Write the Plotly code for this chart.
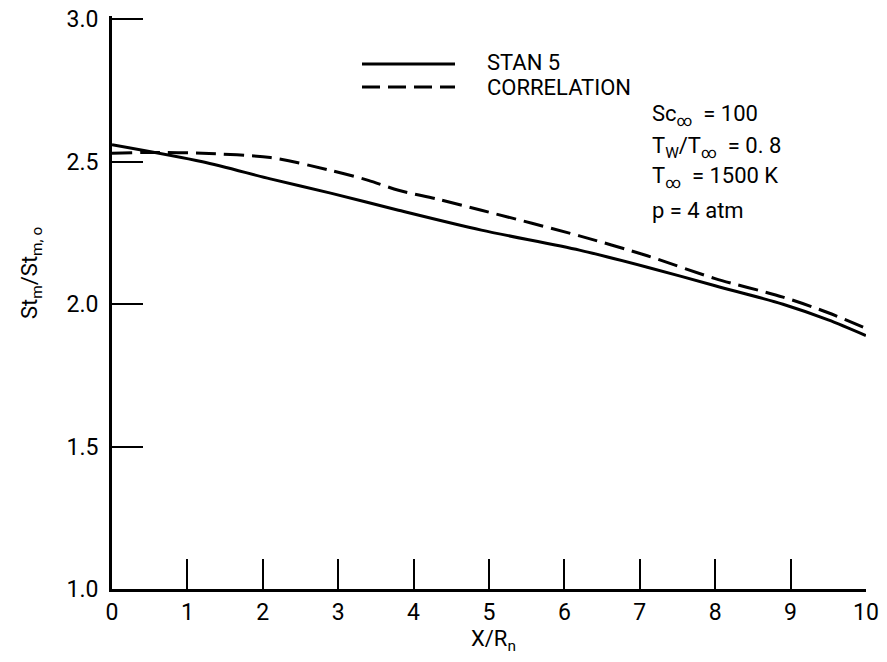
import plotly.graph_objects as go

# Data
stan5_x = [0.0, 1.2, 2.1, 2.9, 3.8, 4.9, 6.2, 7.1, 8.0, 8.9, 9.5, 10.0]
stan5_y = [2.56, 2.50, 2.44, 2.39, 2.33, 2.26, 2.19, 2.13, 2.065, 2.0, 1.945, 1.89]

corr_x = [0.0, 0.5, 1.2, 2.1, 2.9, 3.4, 3.8, 4.3, 4.9, 6.2, 7.1, 8.0, 8.9, 9.5, 10.0]
corr_y = [2.53, 2.533, 2.53, 2.515, 2.47, 2.435, 2.40, 2.37, 2.33, 2.24, 2.17, 2.09, 2.025, 1.97, 1.915]

x_ticks = [0, 1, 2, 3, 4, 5, 6, 7, 8, 9, 10]
y_ticks = [1.0, 1.5, 2.0, 2.5, 3.0]

legend_names = ["STAN 5", "CORRELATION"]
conditions = [
    "Sc<sub>∞</sub>  = 100",
    "T<sub>W</sub>/T<sub>∞</sub>  = 0. 8",
    "T<sub>∞</sub>  = 1500 K",
    "p = 4 atm",
]

FONT = "Roboto, Liberation Sans, sans-serif"

fig = go.Figure()
fig.add_trace(go.Scatter(x=stan5_x, y=stan5_y, mode="lines", name=legend_names[0],
                         line=dict(color="black", width=3, shape="spline", smoothing=0.8),
                         showlegend=False))
fig.add_trace(go.Scatter(x=corr_x, y=corr_y, mode="lines", name=legend_names[1],
                         line=dict(color="black", width=3, dash="20px,8px", shape="spline", smoothing=0.8),
                         showlegend=False))

W, H = 887, 662
L, R, T, B = 112, 21, 16, 73

def px_x(p):
    return (p - L) / (W - L - R)

def px_y(p):
    return (H - B - p) / (H - T - B)

# Legend keys (drawn manually to match original long samples)
fig.add_shape(type="line", xref="paper", yref="paper",
              x0=px_x(362), x1=px_x(455), y0=px_y(64), y1=px_y(64),
              line=dict(color="black", width=3))
fig.add_shape(type="line", xref="paper", yref="paper",
              x0=px_x(362), x1=px_x(455), y0=px_y(87), y1=px_y(87),
              line=dict(color="black", width=3, dash="18px,8px"))
for name, yy in zip(legend_names, [62, 87]):
    fig.add_annotation(text=name, xref="paper", yref="paper", x=px_x(485), y=px_y(yy),
                       xanchor="left", yanchor="middle", showarrow=False,
                       font=dict(family=FONT, size=22, color="black"))

for txt, yy in zip(conditions, [115, 147, 178, 210]):
    fig.add_annotation(text=txt, xref="paper", yref="paper", x=px_x(650), y=px_y(yy),
                       xanchor="left", yanchor="middle", showarrow=False,
                       font=dict(family=FONT, size=22, color="black"))

# Y axis title
fig.add_annotation(text="St<sub>m</sub>/St<sub>m, o</sub>", xref="paper", yref="paper",
                   x=px_x(31), y=px_y(273), textangle=-90, showarrow=False,
                   xanchor="center", yanchor="middle",
                   font=dict(family=FONT, size=22, color="black"))
# X axis title
fig.add_annotation(text="X/R<sub>n</sub>", xref="paper", yref="paper",
                   x=px_x(494), y=px_y(640), showarrow=False,
                   xanchor="center", yanchor="middle",
                   font=dict(family=FONT, size=22, color="black"))

fig.update_xaxes(range=[0, 10.001], tickvals=x_ticks, ticktext=[str(v) for v in x_ticks],
                 ticks="inside", ticklen=30, tickwidth=2, tickcolor="black",
                 showline=True, linecolor="black", linewidth=3,
                 showgrid=False, zeroline=False,
                 tickfont=dict(family=FONT, size=23, color="black"))
fig.update_yaxes(range=[1, 3.012], tickvals=y_ticks, ticktext=[f"{v:.1f}" for v in y_ticks],
                 ticks="inside", ticklen=31, tickwidth=2, tickcolor="black",
                 showline=True, linecolor="black", linewidth=3,
                 showgrid=False, zeroline=False, ticklabelstandoff=6,
                 tickfont=dict(family=FONT, size=23, color="black"))

fig.update_layout(width=W, height=H, margin=dict(l=L, r=R, t=T, b=B, autoexpand=False),
                  plot_bgcolor="white", paper_bgcolor="white", showlegend=False)

fig.write_html("out.html", config={"displayModeBar": False},
               post_script="document.body.style.margin='0';document.body.style.overflow='hidden';")
